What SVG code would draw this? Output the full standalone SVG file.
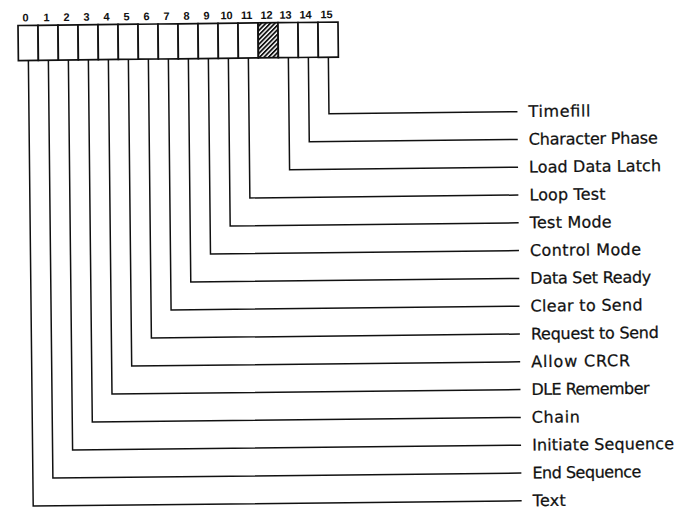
<svg xmlns="http://www.w3.org/2000/svg" width="689" height="510" viewBox="0 0 689 510">
  <style>
    .cell { fill: #fff; stroke: #111; stroke-width: 1.7; }
    .num { font-family: "Liberation Sans", Arial, sans-serif; font-weight: bold; font-size: 11px; fill: #111; text-anchor: middle; letter-spacing: -0.3px; }
    .lbl { font-family: "DejaVu Sans", "Liberation Sans", sans-serif; font-size: 16px; fill: #111; stroke: #111; stroke-width: 0.25; }
    .wire { fill: none; stroke: #111; stroke-width: 1.5; stroke-linejoin: miter; }
  </style>
  <defs>
    <pattern id="hatch" patternUnits="userSpaceOnUse" width="3.2" height="3.2" patternTransform="rotate(45)">
      <line x1="0.9" y1="0" x2="0.9" y2="3.2" stroke="#111" stroke-width="1.8"/>
    </pattern>
  </defs>
  <rect width="689" height="510" fill="#fff"/>
  <g transform="rotate(-0.62 345 255)">
    <g id="register">
      <g id="bit-numbers">
        <text class="num" x="28" y="18">0</text>
        <text class="num" x="49" y="18">1</text>
        <text class="num" x="69" y="18">2</text>
        <text class="num" x="89" y="18">3</text>
        <text class="num" x="109" y="18">4</text>
        <text class="num" x="129" y="18">5</text>
        <text class="num" x="149" y="18">6</text>
        <text class="num" x="169" y="18">7</text>
        <text class="num" x="189" y="18">8</text>
        <text class="num" x="209" y="18">9</text>
        <text class="num" x="229" y="18">10</text>
        <text class="num" x="249" y="18">11</text>
        <text class="num" x="269" y="18">12</text>
        <text class="num" x="288" y="18">13</text>
        <text class="num" x="308" y="18">14</text>
        <text class="num" x="329" y="18">15</text>
      </g>
      <g id="cells">
        <rect class="cell" x="20.5" y="22" width="20" height="35"/>
        <rect class="cell" x="40.5" y="22" width="20" height="35"/>
        <rect class="cell" x="60.5" y="22" width="20" height="35"/>
        <rect class="cell" x="80.5" y="22" width="20" height="35"/>
        <rect class="cell" x="100.5" y="22" width="20" height="35"/>
        <rect class="cell" x="120.5" y="22" width="20" height="35"/>
        <rect class="cell" x="140.5" y="22" width="20" height="35"/>
        <rect class="cell" x="160.5" y="22" width="20" height="35"/>
        <rect class="cell" x="180.5" y="22" width="20" height="35"/>
        <rect class="cell" x="200.5" y="22" width="20" height="35"/>
        <rect class="cell" x="220.5" y="22" width="20" height="35"/>
        <rect class="cell" x="240.5" y="22" width="20" height="35"/>
        <rect class="cell" x="260.5" y="22" width="20" height="35" style="fill:url(#hatch)"/>
        <rect class="cell" x="280.5" y="22" width="20" height="35"/>
        <rect class="cell" x="300.5" y="22" width="20" height="35"/>
        <rect class="cell" x="320.5" y="22" width="20" height="35"/>
      </g>
    </g>
    <g id="connectors">
      <path class="wire" d="M330.5 57 V113.5 H519"/>
      <path class="wire" d="M310.5 57 V141.3 H519"/>
      <path class="wire" d="M290.5 57 V169.1 H519"/>
      <path class="wire" d="M250.5 57 V196.9 H519"/>
      <path class="wire" d="M230.5 57 V224.7 H519"/>
      <path class="wire" d="M210.5 57 V252.5 H519"/>
      <path class="wire" d="M190.5 57 V280.3 H519"/>
      <path class="wire" d="M170.5 57 V308.1 H519"/>
      <path class="wire" d="M150.5 57 V335.9 H519"/>
      <path class="wire" d="M130.5 57 V363.7 H519"/>
      <path class="wire" d="M110.5 57 V391.5 H519"/>
      <path class="wire" d="M90.5 57 V419.3 H519"/>
      <path class="wire" d="M70.5 57 V447.1 H519"/>
      <path class="wire" d="M50.5 57 V474.9 H519"/>
      <path class="wire" d="M30.5 57 V502.7 H519"/>
    </g>
    <g id="label-timefill"><text class="lbl" x="530" y="119" textLength="62">Timefill</text></g>
    <g id="label-character-phase"><text class="lbl" x="530" y="146.8" textLength="129">Character Phase</text></g>
    <g id="label-load-data-latch"><text class="lbl" x="530" y="174.6" textLength="132">Load Data Latch</text></g>
    <g id="label-loop-test"><text class="lbl" x="530" y="202.4" textLength="76">Loop Test</text></g>
    <g id="label-test-mode"><text class="lbl" x="530" y="230.2" textLength="82">Test Mode</text></g>
    <g id="label-control-mode"><text class="lbl" x="530" y="258" textLength="111">Control Mode</text></g>
    <g id="label-data-set-ready"><text class="lbl" x="530" y="285.8" textLength="121">Data Set Ready</text></g>
    <g id="label-clear-to-send"><text class="lbl" x="530" y="313.6" textLength="112">Clear to Send</text></g>
    <g id="label-request-to-send"><text class="lbl" x="530" y="341.4" textLength="128">Request to Send</text></g>
    <g id="label-allow-crcr"><text class="lbl" x="530" y="369.2" textLength="99">Allow CRCR</text></g>
    <g id="label-dle-remember"><text class="lbl" x="530" y="397" textLength="118">DLE Remember</text></g>
    <g id="label-chain"><text class="lbl" x="530" y="424.8" textLength="48">Chain</text></g>
    <g id="label-initiate-sequence"><text class="lbl" x="530" y="452.6" textLength="142">Initiate Sequence</text></g>
    <g id="label-end-sequence"><text class="lbl" x="530" y="480.4" textLength="109">End Sequence</text></g>
    <g id="label-text"><text class="lbl" x="530" y="508.2" textLength="33">Text</text></g>
  </g>
</svg>
